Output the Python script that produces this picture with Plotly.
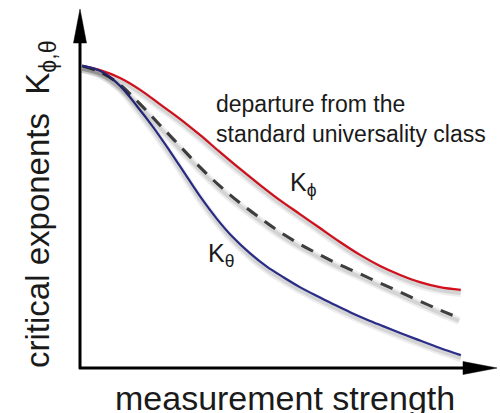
import plotly.graph_objects as go

# Data (abstract units: x 0..10 measurement strength, y 0..10 critical exponent)
red_x = [0.05, 0.48, 0.96, 1.44, 1.91, 2.39, 2.87, 3.35, 3.83, 4.31, 4.78, 5.26, 5.74, 6.22, 6.70, 7.18, 7.66, 8.13, 8.61, 9.11]
red_y = [8.44, 8.32, 8.10, 7.77, 7.37, 6.96, 6.51, 6.03, 5.56, 5.11, 4.69, 4.30, 3.91, 3.52, 3.16, 2.85, 2.60, 2.40, 2.26, 2.18]

dash_x = [0.05, 0.48, 0.96, 1.44, 1.91, 2.39, 2.87, 3.35, 3.83, 4.31, 4.78, 5.26, 5.74, 6.22, 6.70, 7.18, 7.66, 8.13, 8.61, 9.07]
dash_y = [8.44, 8.27, 7.91, 7.37, 6.79, 6.20, 5.61, 5.08, 4.61, 4.19, 3.80, 3.46, 3.16, 2.88, 2.63, 2.37, 2.12, 1.87, 1.62, 1.40]

blue_x = [0.05, 0.48, 0.96, 1.36, 1.75, 2.15, 2.51, 2.87, 3.28, 3.66, 4.07, 4.47, 4.86, 5.26, 5.67, 6.05, 6.46, 6.87, 7.25, 7.66, 8.06, 8.61, 9.11]
blue_y = [8.44, 8.30, 7.88, 7.32, 6.73, 6.06, 5.43, 4.80, 4.16, 3.65, 3.20, 2.83, 2.54, 2.26, 2.01, 1.79, 1.56, 1.35, 1.17, 0.98, 0.80, 0.56, 0.36]

x_title = "measurement strength"
y_title = "critical exponents\u00a0\u00a0K<sub>\u03d5,\u03b8</sub>"
note = "departure from the<br>standard universality class"
lab_phi = "K<sub>\u03d5</sub>"
lab_theta = "K<sub>\u03b8</sub>"

RED = "#e5121f"
BLUE = "#2f3196"
GRAY = "#444444"
FONT = "Liberation Sans, Arial, Helvetica, sans-serif"

W, H = 500, 413
ML, MR, MT, MB = 80, 2, 10, 45
PW, PH = W - ML - MR, H - MT - MB

def px(x):
    return (x - ML) / PW

def py(y):
    return (H - MB - y) / PH

fig = go.Figure()

series = [(red_x, red_y, RED, "solid", 2.2), (dash_x, dash_y, GRAY, "13px,9px", 3), (blue_x, blue_y, BLUE, "solid", 2.2)]

# soft shadows (drawn on an offset overlay axis)
for xs, ys, c, d, w in series:
    fig.add_trace(go.Scatter(x=xs, y=ys, mode="lines", yaxis="y2",
                             line=dict(color="rgba(0,0,0,0.07)", width=8, shape="spline", smoothing=1),
                             hoverinfo="skip", showlegend=False))
    fig.add_trace(go.Scatter(x=xs, y=ys, mode="lines", yaxis="y2",
                             line=dict(color="rgba(0,0,0,0.10)", width=4, shape="spline", smoothing=1),
                             hoverinfo="skip", showlegend=False))

for xs, ys, c, d, w in series:
    fig.add_trace(go.Scatter(x=xs, y=ys, mode="lines",
                             line=dict(color=c, width=w, dash=d, shape="spline", smoothing=1),
                             showlegend=False))

off = 3.0 / PH * 10
fig.update_layout(
    width=W, height=H,
    margin=dict(l=ML, r=MR, t=MT, b=MB),
    paper_bgcolor="white", plot_bgcolor="white",
    xaxis=dict(range=[0, 10], visible=False),
    yaxis=dict(range=[0, 10], visible=False),
    yaxis2=dict(range=[off, 10 + off], visible=False, overlaying="y"),
    showlegend=False,
)

# axes with arrowheads
fig.add_shape(type="line", xref="paper", yref="paper", x0=px(80), y0=py(369), x1=px(80), y1=py(40),
              line=dict(color="black", width=3))
fig.add_shape(type="line", xref="paper", yref="paper", x0=px(79), y0=py(368), x1=px(466), y1=py(368),
              line=dict(color="black", width=3))
fig.add_shape(type="path", xref="paper", yref="paper",
              path=f"M {px(73.5)},{py(43)} L {px(80)},{py(9)} L {px(86.5)},{py(43)} Z",
              fillcolor="black", line=dict(color="black", width=0.5))
fig.add_shape(type="path", xref="paper", yref="paper",
              path=f"M {px(463)},{py(361.5)} L {px(497)},{py(368)} L {px(463)},{py(374.5)} Z",
              fillcolor="black", line=dict(color="black", width=0.5))

fig.add_annotation(text=x_title, xref="paper", yref="paper", x=px(285), y=py(398),
                   xanchor="center", yanchor="middle", showarrow=False,
                   font=dict(family=FONT, size=34, color="#1a1a1a"))
fig.add_annotation(text=y_title, xref="paper", yref="paper", x=px(40), y=py(204),
                   xanchor="center", yanchor="middle", showarrow=False, textangle=-90,
                   font=dict(family=FONT, size=33, color="#1a1a1a"))
fig.add_annotation(text=note, xref="paper", yref="paper", x=px(214), y=py(119),
                   xanchor="left", yanchor="middle", align="left", showarrow=False,
                   font=dict(family=FONT, size=23, color="#1a1a1a"))
fig.add_annotation(text=lab_phi, xref="paper", yref="paper", x=px(288), y=py(184),
                   xanchor="left", yanchor="middle", showarrow=False,
                   font=dict(family=FONT, size=25, color="#1a1a1a"))
fig.add_annotation(text=lab_theta, xref="paper", yref="paper", x=px(206), y=py(255),
                   xanchor="left", yanchor="middle", showarrow=False,
                   font=dict(family=FONT, size=25, color="#1a1a1a"))

fig.write_html("out.html")
